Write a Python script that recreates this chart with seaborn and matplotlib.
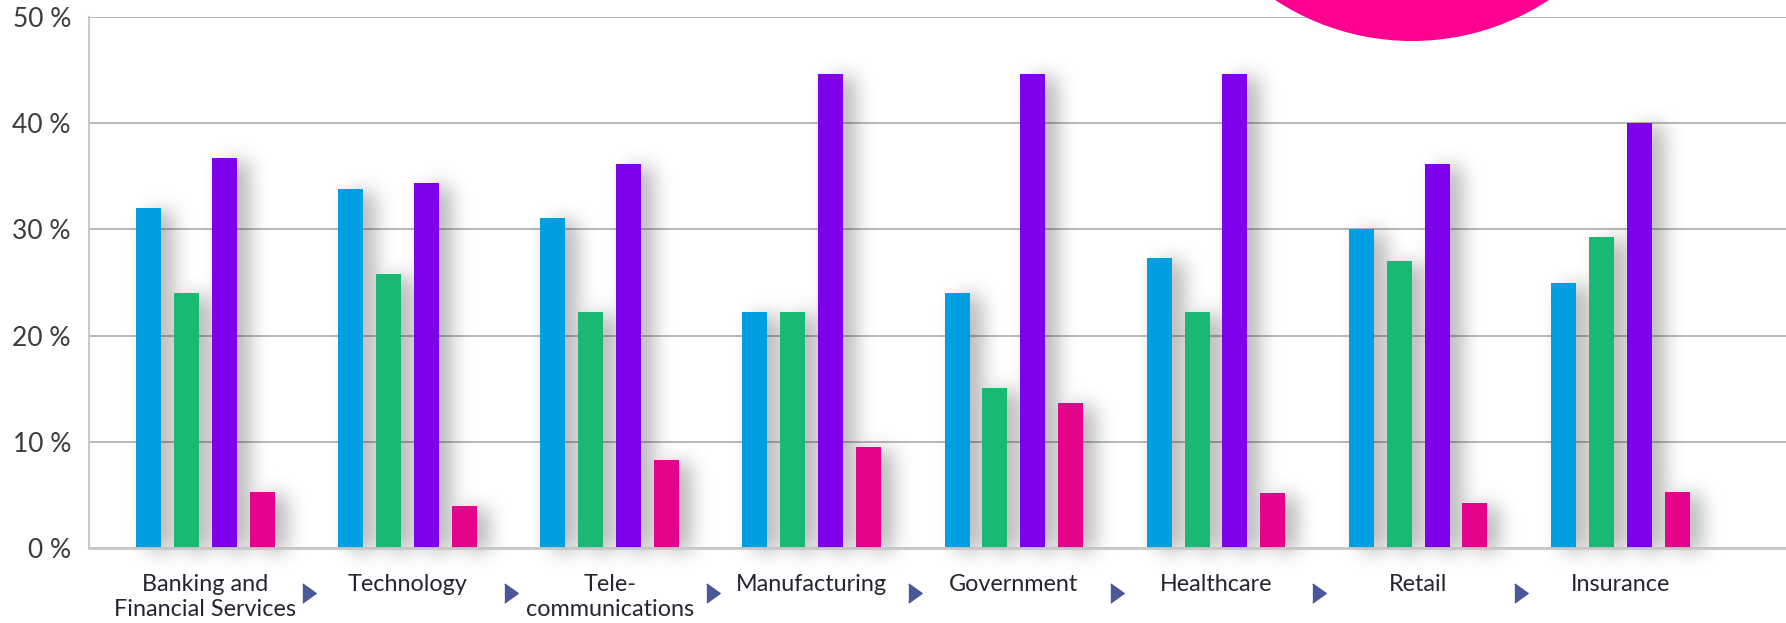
import numpy as np
import pandas as pd
import matplotlib
matplotlib.use("Agg")
import matplotlib.pyplot as plt
import matplotlib.transforms as mtransforms
from matplotlib.patches import Circle
import seaborn as sns

# data (percent)
SECTORS = ["Banking and\nFinancial Services", "Technology", "Tele-\ncommunications",
           "Manufacturing", "Government", "Healthcare", "Retail", "Insurance"]
SERIES = ["Series 1", "Series 2", "Series 3", "Series 4"]
BLUE_VALUES = [32.0, 33.8, 31.1, 22.2, 24.0, 27.3, 30.0, 25.0]
GREEN_VALUES = [24.0, 25.8, 22.2, 22.2, 15.1, 22.2, 27.0, 29.3]
PURPLE_VALUES = [36.7, 34.4, 36.2, 44.6, 44.6, 44.6, 36.2, 40.0]
PINK_VALUES = [5.3, 4.0, 8.3, 9.5, 13.7, 5.2, 4.2, 5.3]
Y_TICKS = [0, 10, 20, 30, 40, 50]

COLORS = ["#009FE1", "#1AB973", "#7F00EB", "#E3048B"]
CIRCLE_COLOR = "#FF0090"
ARROW_COLOR = "#4A5899"

W_PX, H_PX = 1786, 623


def gaussian_blur(img, sigma):
    r = int(3 * sigma)
    k = np.exp(-0.5 * (np.arange(-r, r + 1) / sigma) ** 2)
    k /= k.sum()
    h, w = img.shape
    p = np.pad(img, r)
    tmp = sum(k[i] * p[:, i:i + w] for i in range(2 * r + 1))
    return sum(k[i] * tmp[i:i + h, :] for i in range(2 * r + 1))


rows = []
for name, vals in zip(SERIES, [BLUE_VALUES, GREEN_VALUES, PURPLE_VALUES, PINK_VALUES]):
    for sector, v in zip(SECTORS, vals):
        rows.append({"sector": sector, "series": name, "value": v})
df = pd.DataFrame(rows)

sns.set_theme(style="white")
plt.rcParams["font.family"] = ["Lato", "DejaVu Sans"]

fig = plt.figure(figsize=(W_PX / 100, H_PX / 100), dpi=100)
ax = fig.add_axes([89 / W_PX, 1 - 548 / H_PX, 1 - 89 / W_PX, (548 - 17) / H_PX])

sns.barplot(data=df, x="sector", y="value", hue="series", order=SECTORS,
            hue_order=SERIES, palette=COLORS, width=0.75, gap=0.34,
            saturation=1, linewidth=0, legend=False, ax=ax)

XLIM = (-0.576, 7.82)
ax.set_xlim(*XLIM)
ax.set_ylim(0, 50)
ax.set_xlabel("")
ax.set_ylabel("")

# soft blurred drop shadow behind the bars, built in pixel space
bbox = ax.get_window_extent()
margin_below = 60
x0_px, x1_px = int(bbox.x0), int(np.ceil(bbox.x1))
y0_px, y1_px = int(bbox.y0) - margin_below, int(np.ceil(bbox.y1))
mask = np.zeros((y1_px - y0_px, x1_px - x0_px))
dx, dy = 12, -3
for p in ax.patches:
    p.set_zorder(3)
    (bx0, by0), (bx1, by1) = ax.transData.transform(
        [(p.get_x(), 0), (p.get_x() + p.get_width(), p.get_height())])
    c0 = int(round(bx0)) - x0_px + dx
    c1 = int(round(bx1)) - x0_px + dx
    r0 = int(round(by0)) - y0_px + dy
    r1 = int(round(by1)) - y0_px + dy
    mask[max(r0, 0):r1, max(c0, 0):c1] = 1.0
shadow = gaussian_blur(mask, 10.0)
rgba = np.zeros(shadow.shape + (4,))
rgba[..., 3] = np.clip(shadow, 0, 1) * 0.3
inv = ax.transData.inverted()
(ex0, ey0), (ex1, ey1) = inv.transform([(x0_px, y0_px), (x1_px, y1_px)])
ax.imshow(rgba, origin="lower", extent=(ex0, ex1, ey0, ey1), aspect="auto",
          interpolation="nearest", zorder=1, clip_on=False)
ax.set_xlim(*XLIM)
ax.set_ylim(0, 50)

ax.yaxis.grid(True, color="#b3b3b3", linewidth=1.3)
ax.set_axisbelow(True)
for side in ["top", "right"]:
    ax.spines[side].set_visible(False)
ax.spines["left"].set_color("#c8c8c8")
ax.spines["left"].set_linewidth(1.5)
ax.spines["bottom"].set_color("#c8c8c8")
ax.spines["bottom"].set_linewidth(2)
ax.spines["bottom"].set_zorder(4)

ax.set_yticks(Y_TICKS)
ax.set_yticklabels([f"{t} %" for t in Y_TICKS], fontsize=19, color="#3c3c3c")
ax.tick_params(axis="y", length=0, pad=13)
ax.set_xticks(range(len(SECTORS)))
ax.set_xticklabels(SECTORS, fontsize=16.8, color="#252530", linespacing=1.22)
ax.tick_params(axis="x", length=0, pad=19)

# small arrows between the sector labels
trans = mtransforms.blended_transform_factory(ax.transData, ax.transAxes)
arrow = [(-0.7, -1), (0.7, 0), (-0.7, 1)]
ax.plot(np.arange(len(SECTORS) - 1) + 0.51, [-0.0847] * (len(SECTORS) - 1),
        linestyle="none", marker=arrow, markersize=13.7, color=ARROW_COLOR,
        transform=trans, clip_on=False)

# decorative pink circle cut by the top edge
deco = fig.add_axes([0, 0, 1, 1], zorder=5)
deco.set_xlim(0, W_PX)
deco.set_ylim(H_PX, 0)
deco.axis("off")
deco.patch.set_alpha(0)
deco.add_patch(Circle((1412, -208), 249, color=CIRCLE_COLOR, linewidth=0))

fig.savefig("out.png", dpi=100)
